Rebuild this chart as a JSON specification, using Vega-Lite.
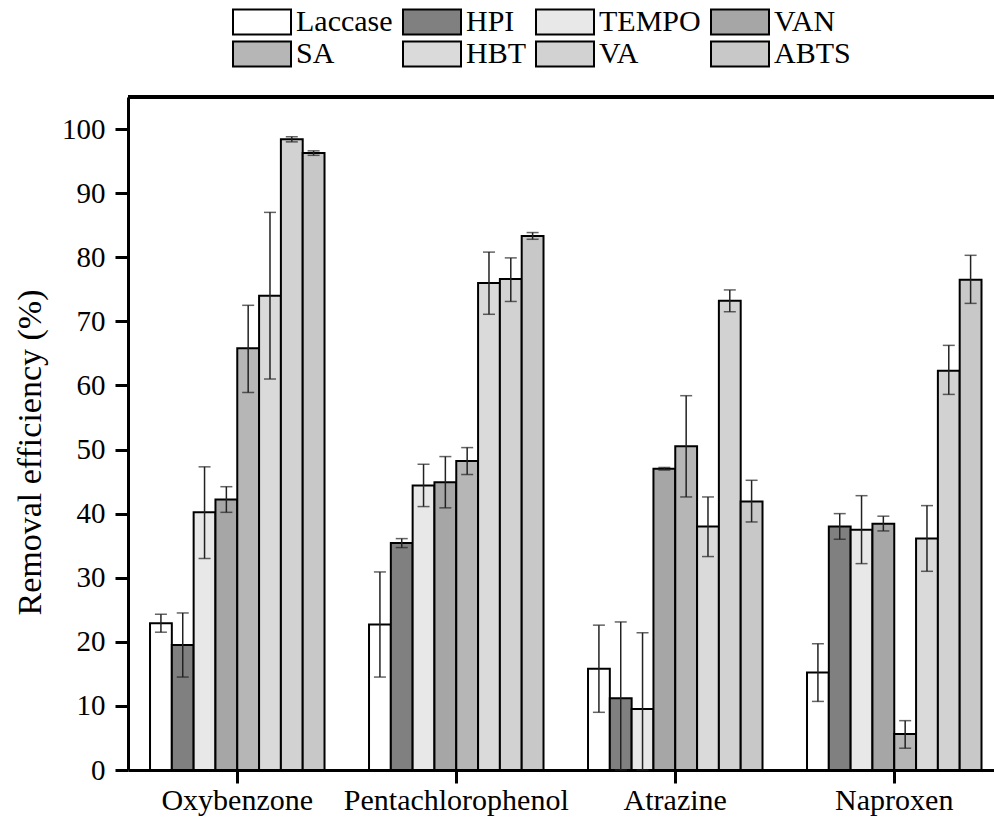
{
  "$schema": "https://vega.github.io/schema/vega-lite/v6.json",
  "autosize": "none",
  "padding": {"left": 128, "top": 97, "right": 0, "bottom": 50},
  "width": 866,
  "height": 673,
  "background": "white",
  "config": {
    "font": "Liberation Serif",
    "view": {"stroke": null},
    "axis": {"grid": false, "domainColor": "black", "tickColor": "black", "labelColor": "black", "titleColor": "black", "domainWidth": 3, "tickWidth": 3, "titleFontWeight": "normal", "labelFont": "Liberation Serif", "titleFont": "Liberation Serif"},
    "legend": {"labelFont": "Liberation Serif", "titleFont": "Liberation Serif"}
  },
  "data": {
    "values": [
      {"compound": "Oxybenzone", "mediator": "Laccase", "value": 22.9, "lo": 21.5, "hi": 24.3},
      {"compound": "Oxybenzone", "mediator": "HPI", "value": 19.5, "lo": 14.5, "hi": 24.5},
      {"compound": "Oxybenzone", "mediator": "TEMPO", "value": 40.2, "lo": 33.0, "hi": 47.3},
      {"compound": "Oxybenzone", "mediator": "VAN", "value": 42.2, "lo": 40.2, "hi": 44.2},
      {"compound": "Oxybenzone", "mediator": "SA", "value": 65.8, "lo": 58.9, "hi": 72.5},
      {"compound": "Oxybenzone", "mediator": "HBT", "value": 74.0, "lo": 61.0, "hi": 87.0},
      {"compound": "Oxybenzone", "mediator": "VA", "value": 98.4, "lo": 98.0, "hi": 98.8},
      {"compound": "Oxybenzone", "mediator": "ABTS", "value": 96.25, "lo": 95.9, "hi": 96.6},
      {"compound": "Pentachlorophenol", "mediator": "Laccase", "value": 22.7, "lo": 14.5, "hi": 30.9},
      {"compound": "Pentachlorophenol", "mediator": "HPI", "value": 35.4, "lo": 34.7, "hi": 36.1},
      {"compound": "Pentachlorophenol", "mediator": "TEMPO", "value": 44.4, "lo": 41.1, "hi": 47.7},
      {"compound": "Pentachlorophenol", "mediator": "VAN", "value": 44.9, "lo": 40.9, "hi": 48.9},
      {"compound": "Pentachlorophenol", "mediator": "SA", "value": 48.2, "lo": 46.1, "hi": 50.3},
      {"compound": "Pentachlorophenol", "mediator": "HBT", "value": 76.0, "lo": 71.1, "hi": 80.8},
      {"compound": "Pentachlorophenol", "mediator": "VA", "value": 76.6, "lo": 73.1, "hi": 79.9},
      {"compound": "Pentachlorophenol", "mediator": "ABTS", "value": 83.3, "lo": 82.8, "hi": 83.85},
      {"compound": "Atrazine", "mediator": "Laccase", "value": 15.8, "lo": 9.0, "hi": 22.6},
      {"compound": "Atrazine", "mediator": "HPI", "value": 11.2, "lo": 0, "hi": 23.1},
      {"compound": "Atrazine", "mediator": "TEMPO", "value": 9.5, "lo": 0, "hi": 21.4},
      {"compound": "Atrazine", "mediator": "VAN", "value": 47.0, "lo": 46.8, "hi": 47.2},
      {"compound": "Atrazine", "mediator": "SA", "value": 50.5, "lo": 42.6, "hi": 58.4},
      {"compound": "Atrazine", "mediator": "HBT", "value": 38.0, "lo": 33.3, "hi": 42.6},
      {"compound": "Atrazine", "mediator": "VA", "value": 73.2, "lo": 71.5, "hi": 74.9},
      {"compound": "Atrazine", "mediator": "ABTS", "value": 41.9, "lo": 38.7, "hi": 45.2},
      {"compound": "Naproxen", "mediator": "Laccase", "value": 15.2, "lo": 10.7, "hi": 19.7},
      {"compound": "Naproxen", "mediator": "HPI", "value": 38.0, "lo": 36.0, "hi": 40.0},
      {"compound": "Naproxen", "mediator": "TEMPO", "value": 37.5, "lo": 32.2, "hi": 42.8},
      {"compound": "Naproxen", "mediator": "VAN", "value": 38.4, "lo": 37.3, "hi": 39.6},
      {"compound": "Naproxen", "mediator": "SA", "value": 5.6, "lo": 3.4, "hi": 7.7},
      {"compound": "Naproxen", "mediator": "HBT", "value": 36.1, "lo": 31.0, "hi": 41.25},
      {"compound": "Naproxen", "mediator": "VA", "value": 62.3, "lo": 58.6, "hi": 66.25},
      {"compound": "Naproxen", "mediator": "ABTS", "value": 76.5, "lo": 72.8, "hi": 80.3}
    ]
  },
  "layer": [
    {
      "mark": {"type": "bar", "stroke": "black", "strokeWidth": 2},
      "encoding": {
        "x": {
          "field": "compound", "type": "nominal",
          "sort": ["Oxybenzone", "Pentachlorophenol", "Atrazine", "Naproxen"],
          "scale": {"paddingInner": 0.2032, "paddingOuter": 0.0788, "align": 0.638},
          "title": null,
          "axis": {"orient": "bottom", "labelFontSize": 30, "labelAngle": 0, "tickSize": 13, "labelPadding": 2, "labelLimit": 0}
        },
        "xOffset": {
          "field": "mediator", "type": "nominal",
          "sort": ["Laccase", "HPI", "TEMPO", "VAN", "SA", "HBT", "VA", "ABTS"],
          "scale": {"paddingInner": 0, "paddingOuter": 0}
        },
        "y": {
          "field": "value", "type": "quantitative",
          "scale": {"domain": [0, 105], "nice": false},
          "axis": {
            "title": "Removal efficiency (%)", "titleFontSize": 34,
            "titleX": -98, "titleY": 355, "titleBaseline": "middle", "titleAngle": -90, "titleAlign": "center",
            "values": [0, 5, 10, 15, 20, 25, 30, 35, 40, 45, 50, 55, 60, 65, 70, 75, 80, 85, 90, 95, 100],
            "labelExpr": "datum.value % 10 === 0 ? datum.label : ''",
            "tickSize": 13,
            "tickDash": {"condition": {"test": "datum.value % 10 !== 0", "value": [8, 30]}, "value": [13, 0]},
            "labelFontSize": 29, "labelPadding": 10
          }
        },
        "color": {
          "field": "mediator", "type": "nominal",
          "sort": ["Laccase", "HPI", "TEMPO", "VAN", "SA", "HBT", "VA", "ABTS"],
          "scale": {
            "domain": ["Laccase", "HPI", "TEMPO", "VAN", "SA", "HBT", "VA", "ABTS"],
            "range": ["#ffffff", "#808080", "#e8e8e8", "#a6a6a6", "#b6b6b6", "#dadada", "#d2d2d2", "#c8c8c8"]
          },
          "legend": {
            "orient": "none", "legendX": 104, "legendY": -105,
            "direction": "horizontal", "columns": 4, "gridAlign": "none",
            "title": null,
            "symbolType": "M-1,-0.431H1V0.431H-1Z", "symbolSize": 3364,
            "symbolStrokeColor": "black", "symbolStrokeWidth": 2, "symbolOpacity": 1,
            "labelFontSize": 30, "labelFont": "Liberation Serif", "labelColor": "black",
            "labelOffset": 4, "columnPadding": 6, "rowPadding": -15, "labelLimit": 0
          }
        }
      }
    },
    {
      "mark": {"type": "rule", "color": "black", "strokeWidth": 3},
      "encoding": {"y": {"datum": 105, "type": "quantitative"}}
    },
    {
      "mark": {"type": "rule", "color": "#222222", "strokeWidth": 1.5},
      "encoding": {
        "x": {"field": "compound", "type": "nominal", "sort": ["Oxybenzone", "Pentachlorophenol", "Atrazine", "Naproxen"]},
        "xOffset": {"field": "mediator", "type": "nominal", "sort": ["Laccase", "HPI", "TEMPO", "VAN", "SA", "HBT", "VA", "ABTS"]},
        "y": {"field": "lo", "type": "quantitative"},
        "y2": {"field": "hi"}
      }
    },
    {
      "mark": {"type": "tick", "color": "#222222", "thickness": 1.5, "size": 12},
      "encoding": {
        "x": {"field": "compound", "type": "nominal", "sort": ["Oxybenzone", "Pentachlorophenol", "Atrazine", "Naproxen"]},
        "xOffset": {"field": "mediator", "type": "nominal", "sort": ["Laccase", "HPI", "TEMPO", "VAN", "SA", "HBT", "VA", "ABTS"]},
        "y": {"field": "lo", "type": "quantitative"}
      }
    },
    {
      "mark": {"type": "tick", "color": "#222222", "thickness": 1.5, "size": 12},
      "encoding": {
        "x": {"field": "compound", "type": "nominal", "sort": ["Oxybenzone", "Pentachlorophenol", "Atrazine", "Naproxen"]},
        "xOffset": {"field": "mediator", "type": "nominal", "sort": ["Laccase", "HPI", "TEMPO", "VAN", "SA", "HBT", "VA", "ABTS"]},
        "y": {"field": "hi", "type": "quantitative"}
      }
    }
  ]
}
